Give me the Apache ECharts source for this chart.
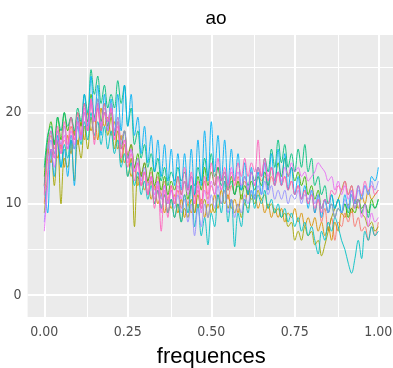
<!DOCTYPE html>
<html>
<head>
<meta charset="utf-8">
<script src="https://cdn.jsdelivr.net/npm/echarts@6/dist/echarts.min.js"></script>
<style>
  html, body { margin: 0; padding: 0; background: #fff; }
  #chart { width: 393px; height: 368px; }
</style>
</head>
<body>
<div id="chart"></div>
<script>
// frequency grid: 0.00 .. 1.00, step 0.01
const nPoints = 101
const frequences = []
for (let i = 0; i < nPoints; i++) frequences.push(i / 100)

const xTicks = [0, 0.25, 0.5, 0.75, 1]
const yTicks = [0, 10, 20]
const xGrid = [0, 0.125, 0.25, 0.375, 0.5, 0.625, 0.75, 0.875, 1]
const yGrid = [0, 5, 10, 15, 20, 25]

const colors = ['#F8766D', '#D89000', '#A3A500', '#39B600', '#00BF7D',
                '#00BFC4', '#00B0F6', '#9590FF', '#E76BF3', '#FF62BC']

const s1 = [10, 15, 17.5, 16, 18, 15.5, 17, 16, 18.5, 17,
  19, 17.5, 20, 18, 21, 19, 20.5, 18.5, 20, 19,
  21, 18, 19.5, 17, 18, 15.5, 16.5, 14, 15, 13,
  14.5, 12.5, 13.5, 11.5, 13, 11, 12.5, 10.5, 12, 10,
  11.5, 9.5, 11, 10, 12, 9, 11.5, 10, 12.5, 10.5,
  12, 11, 13, 11.5, 12.5, 10.5, 12, 11, 13, 11.5,
  12.5, 11, 13.5, 12, 14, 12.5, 13, 11.5, 13, 12,
  13.5, 12, 13, 11.5, 12.5, 11, 12, 10.5, 11.5, 10,
  11, 9, 10.5, 8, 9.5, 7, 8.5, 6, 8, 7.5,
  9, 8, 9.5, 7.5, 8.5, 7, 7.5, 6, 7.5, 6.5,
  8]
const s2 = [12, 16, 14.5, 17, 15, 16.5, 14, 17.5, 15.5, 18,
  16.5, 19, 17, 20, 18, 19.5, 17, 20.5, 18.5, 19.5,
  17.5, 19, 16, 17.5, 14.5, 15.5, 13, 14, 12, 13.5,
  11.5, 12.5, 10.5, 12, 10, 11, 9, 10.5, 9.5, 11,
  9, 10.5, 8.5, 10, 9, 11, 9.5, 10.5, 8.5, 10,
  9, 11, 9.5, 11.5, 10, 11, 9.5, 10.5, 9, 11,
  10, 11.5, 10.5, 11, 9.5, 10.5, 9, 10, 8.5, 9.5,
  8.5, 9.5, 8, 9, 8.5, 9.5, 8, 9, 7.5, 8.5,
  7.5, 8.5, 7, 8, 6.5, 7.5, 6, 8, 7, 9,
  8.5, 10, 9, 10.5, 9.5, 11, 10, 11.5, 10.5, 11,
  11.5]
const s3 = [9, 13, 16, 12, 17, 10, 15, 14, 17, 12.5,
  17, 15, 18.5, 16, 19.5, 17, 21, 18, 20, 17.5,
  19.5, 16, 18, 14.5, 16.5, 13, 15, 7.5, 13, 12,
  13.5, 11, 12.5, 10, 11.5, 9.5, 11, 9, 10.5, 8.5,
  10, 8, 9.5, 8.5, 10.5, 9, 11, 9.5, 10.5, 8.5,
  10, 9, 11, 10, 11.5, 9.5, 10.5, 9, 10, 8.5,
  10, 9.5, 11, 10, 11.5, 10.5, 11, 9.5, 10, 9,
  9.5, 8.5, 9, 7.5, 8, 6, 7, 6, 7.5, 6.5,
  7, 5.5, 6, 4.3, 5.5, 7, 8.5, 9.5, 10.5, 11.5,
  12.5, 11, 12, 10, 10.5, 9, 8.5, 7.5, 8, 7,
  7.5]
const s4 = [13, 17, 19, 16.5, 19.5, 17, 20, 18, 19.5, 17.5,
  20, 18.5, 21, 19, 22, 19.5, 21.5, 19, 21, 18.5,
  20, 17.5, 19, 16, 18, 15, 16.5, 14, 15.5, 13,
  14.5, 12.5, 14, 12, 13.5, 11.5, 13, 11, 12.5, 11.5,
  13, 11, 12.5, 10.5, 12, 11, 13, 11.5, 14, 12,
  13.5, 12, 14, 12.5, 13.5, 11.5, 13, 11, 12.5, 10.5,
  12, 11, 12.5, 11.5, 13, 12, 13.5, 12, 14, 12.5,
  14.5, 13, 15, 13, 14, 12.5, 13.5, 12, 13, 11,
  12, 10.5, 11.5, 9.5, 10.5, 9, 10, 8.5, 9.5, 9,
  10, 8.5, 9.5, 9, 10.5, 9.5, 10, 9, 10.5, 9.5,
  10.5]
const s5 = [14, 17.5, 18.5, 16.5, 19.5, 18, 20, 18.5, 19.5, 18,
  20.5, 19, 22, 20, 24.7, 22, 24, 21, 23, 20.5,
  22, 20.5, 23.5, 21, 23, 18.5, 20.5, 16.5, 18, 15,
  16.5, 14, 15.5, 13.5, 15, 12.5, 14, 12, 13.5, 12.5,
  14, 12.5, 13.5, 11.5, 13, 12, 14, 12.5, 15, 13,
  15.5, 13, 14, 12, 13, 11.5, 12.5, 11, 12, 11.5,
  13, 12, 13.5, 12.5, 14, 13, 15, 13.5, 16, 14,
  17, 14.5, 16.5, 14, 15.5, 13.5, 16, 14, 16.5, 13.5,
  15, 12, 13, 11, 12, 10, 11, 9.5, 10.5, 9,
  10, 9, 11, 9.5, 10.5, 9, 10, 8.5, 10, 9.5,
  10.5]
const s6 = [12, 16, 18, 15.5, 17, 14, 16.5, 15, 17.5, 16,
  18.5, 16.5, 19, 17, 20, 17.5, 19, 16.5, 18.5, 16,
  18, 15.5, 17, 14, 15.5, 13, 14.5, 12, 13.5, 11,
  12.5, 10.5, 12, 10, 11.5, 9.5, 11, 9, 10.5, 8.5,
  10, 8, 11, 9, 12, 7.5, 10, 6.5, 8.5, 5.5,
  9, 7.5, 11, 9, 12.5, 8, 10.5, 5.3, 9, 7.5,
  10.5, 9, 11.5, 9.5, 11, 10, 11.5, 9.5, 10.5, 9,
  10, 8.5, 9.5, 8, 9, 7.5, 8.5, 7, 8, 6.5,
  7.5, 6, 4.5, 7, 6, 8, 7, 8.5, 7.5, 6,
  5, 3.5, 2.4, 4, 6, 4, 7, 6, 7.5, 6.5,
  7]
const s7 = [12, 9, 16, 13, 17.5, 14, 16, 13, 17, 12,
  19.5, 17, 22, 18.5, 24, 19, 23, 17.5, 22, 18,
  21.5, 17.5, 22, 18, 23, 18.5, 22, 17.5, 19.5, 15.5,
  18.5, 14.5, 17.5, 13.5, 17, 13, 16.5, 12.5, 16, 12,
  15.5, 11.5, 15.5, 11.5, 16, 11, 17, 12, 18, 12.5,
  19, 13.5, 17.5, 12.5, 17, 12, 16, 12.5, 15.5, 11.5,
  14.5, 11, 14, 10.5, 13.5, 11, 14.5, 11.5, 15.5, 12,
  16, 12, 15.5, 11.5, 14, 11, 13, 10.5, 12, 9.5,
  11.5, 9, 11, 8.5, 10.5, 9, 11, 9.5, 10.5, 9,
  11, 9.5, 11.5, 10, 12, 10.5, 12, 11, 13, 12.5,
  14]
const s8 = [8, 13, 17, 15, 18, 16.5, 18.5, 16, 17.5, 16,
  18.5, 17, 20, 18, 21, 19, 21.5, 18.5, 20.5, 19,
  21, 18, 19.5, 16.5, 18, 15, 16, 13.5, 15, 12.5,
  14, 12, 13, 11, 12.5, 10.5, 12, 10, 11.5, 9.5,
  11, 9, 10.5, 8, 10, 6.5, 9.5, 7.5, 10, 8.5,
  11, 9.5, 12, 10, 11.5, 9, 10.5, 8.5, 10, 9,
  11, 10, 11.5, 10.5, 12, 11, 12.5, 11, 12, 10.5,
  11.5, 10.5, 11.5, 10, 11, 10.5, 11.5, 10, 11, 10.5,
  11.5, 10, 11, 9.5, 10.5, 9, 10, 8.5, 9.5, 9,
  10.5, 9.5, 11, 10, 11.5, 10.5, 12, 11, 12.5, 11.5,
  12.5]
const s9 = [7, 12, 16, 14, 17, 15.5, 17.5, 16, 18, 16.5,
  19, 17, 20.5, 18, 21.5, 19, 21, 18.5, 20, 18,
  20.5, 17, 19, 16, 17, 14.5, 16, 13.5, 14.5, 12,
  13.5, 11, 13, 10.5, 12.5, 9, 12, 10, 11.5, 10.5,
  12, 10.5, 12.5, 11, 13, 10, 12, 9, 11.5, 10,
  12.5, 11, 13, 11.5, 13.5, 12, 14, 12.5, 13.5, 12,
  13, 11.5, 13.5, 12, 14, 13, 14.5, 13, 14, 12.5,
  13.5, 12.5, 14, 13, 14.5, 13.5, 14, 13, 13.5, 12.5,
  13, 13.5, 14.5, 14, 13.5, 12.5, 13, 11.5, 12.5, 11,
  12, 10.5, 11.5, 9.5, 10.5, 8.5, 10, 7.5, 9, 8,
  8.5]
const s10 = [11, 16, 18, 15, 18.5, 16, 19, 16.5, 19.5, 17,
  20, 17.5, 21, 18, 21.5, 16.5, 20.5, 18, 21, 19,
  20.5, 17, 18.5, 15, 17, 14, 15.5, 12.5, 14.5, 12,
  13.5, 11, 13, 9.5, 12, 7, 11.5, 8.5, 12, 10,
  13, 11, 14, 11.5, 13.5, 10, 12.5, 9.5, 13, 11,
  14.5, 12, 15, 12.5, 14, 11.5, 13.5, 12, 14.5, 13,
  15, 13, 14.5, 13.5, 17, 13, 15, 12.5, 14, 12,
  13.5, 12, 13, 11.5, 12.5, 11, 12, 10.5, 11.5, 10,
  11, 9.5, 10.5, 9, 10.5, 10, 11.5, 11, 12, 11.5,
  12.5, 11, 12, 10.5, 12, 11, 12.5, 11.5, 12, 11,
  11.5]

const allSeries = [s1, s2, s3, s4, s5, s6, s7, s8, s9, s10]

const chart = echarts.init(document.getElementById('chart'))
const font = '"Liberation Sans Narrow", "DejaVu Sans Condensed", "Liberation Sans", Arial, sans-serif'

const gridLines = []
yGrid.forEach(v => gridLines.push({
    yAxis: v,
    lineStyle: {width: v % 10 === 0 ? 2 : 1}
}))
xGrid.forEach(v => gridLines.push({
    xAxis: v,
    lineStyle: {width: v % 0.25 === 0 ? 2 : 1}
}))

const series = [{
    type: 'line',
    data: [],
    z: 1,
    silent: true,
    markLine: {
        z: 1,
        silent: true,
        symbol: 'none',
        label: {show: false},
        animation: false,
        lineStyle: {color: '#ffffff', type: 'solid'},
        data: gridLines
    }
}]
allSeries.forEach((vals, k) => {
    series.push({
        type: 'line',
        z: 3,
        symbol: 'none',
        smooth: 0.35,
        silent: true,
        animation: false,
        lineStyle: {color: colors[k], width: 0.9},
        data: vals.map((v, i) => [frequences[i], v])
    })
})

const option = {
    backgroundColor: '#ffffff',
    animation: false,
    title: {
        text: 'ao',
        left: 211,
        top: 4,
        textAlign: 'center',
        textStyle: {fontFamily: 'Liberation Sans, Arial, sans-serif', fontSize: 19, fontWeight: 'normal', color: '#000'}
    },
    grid: {
        left: 27.6,
        top: 35,
        width: 367.4,
        height: 282,
        show: true,
        backgroundColor: '#EBEBEB',
        borderWidth: 0,
        containLabel: false,
        outerBoundsMode: 'none'
    },
    xAxis: {
        type: 'value',
        min: -0.05,
        max: 1.05,
        name: 'frequences',
        nameLocation: 'middle',
        nameGap: 29,
        nameTextStyle: {fontFamily: 'Liberation Sans, Arial, sans-serif', fontSize: 22, color: '#000'},
        axisLine: {show: false},
        axisTick: {show: true, length: 3, lineStyle: {color: '#333'}, customValues: xTicks},
        axisLabel: {
            customValues: xTicks,
            margin: 8,
            fontFamily: font,
            fontSize: 14,
            color: '#4D4D4D',
            formatter: v => v.toFixed(2)
        },
        splitLine: {show: false}
    },
    yAxis: {
        type: 'value',
        min: -2.4,
        max: 28.5,
        axisLine: {show: false},
        axisTick: {show: true, length: 3, lineStyle: {color: '#333'}, customValues: yTicks},
        axisLabel: {
            customValues: yTicks,
            margin: 6,
            fontFamily: font,
            fontSize: 14,
            color: '#4D4D4D'
        },
        splitLine: {show: false}
    },
    series: series
}

chart.setOption(option)
</script>
</body>
</html>
